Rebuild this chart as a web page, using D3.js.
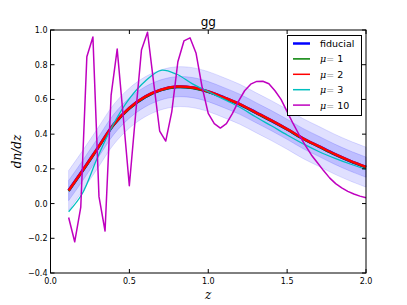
<!DOCTYPE html>
<html><head><meta charset="utf-8">
<script src="https://cdn.jsdelivr.net/npm/d3@7"></script>
<style>body{margin:0;background:#fff}svg{display:block}text{font-family:"DejaVu Sans",sans-serif}</style>
</head><body><svg id="c" width="407" height="305"></svg>
<script>
// smooth curves
const zSmooth = [0.115,0.2,0.3,0.4,0.5,0.6,0.7,0.8,0.9,1.0,1.1,1.2,1.3,1.4,1.5,1.6,1.7,1.8,1.9,2.0];
const fiducial = [0.075,0.185,0.32,0.455,0.55,0.615,0.655,0.673,0.668,0.645,0.61,0.572,0.525,0.478,0.428,0.375,0.33,0.285,0.245,0.21];
const mu1 = [0.072,0.182,0.317,0.452,0.547,0.612,0.652,0.670,0.665,0.643,0.608,0.570,0.523,0.476,0.426,0.373,0.328,0.283,0.243,0.208];
const mu2 = [0.075,0.186,0.321,0.456,0.551,0.616,0.656,0.674,0.669,0.646,0.611,0.573,0.526,0.479,0.429,0.376,0.331,0.286,0.246,0.211];
const mu3 = [-0.047,0.055,0.27,0.46,0.605,0.705,0.768,0.745,0.69,0.645,0.6,0.555,0.5,0.448,0.395,0.345,0.3,0.262,0.228,0.197];
const bandInner = 0.058, bandOuter = 0.115;
// jagged mu=10 curve, 50 samples
const zMu10 = d3.range(50).map(k => 0.115 + k*(2.0-0.115)/49);
const mu10 = [-0.08,-0.22,-0.02,0.846,0.96,0.04,-0.158,0.625,0.89,0.5,0.103,0.5,0.885,0.987,0.7,0.418,0.36,0.53,0.817,0.937,0.955,0.866,0.67,0.52,0.46,0.435,0.46,0.52,0.59,0.65,0.688,0.704,0.705,0.69,0.65,0.6,0.53,0.46,0.395,0.335,0.28,0.235,0.19,0.148,0.115,0.09,0.07,0.055,0.043,0.034];
const xTicks = [0.0,0.5,1.0,1.5,2.0];
const yTicks = [-0.4,-0.2,0.0,0.2,0.4,0.6,0.8,1.0];
const legendLabels = ["fiducial","μ = 1","μ = 2","μ = 3","μ = 10"];
const colors = ["#0000ff","#008000","#ff0000","#00bfbf","#bf00bf"];

const svg = d3.select("#c");
const L=50.5,R=366,T=30,B=273;
const x = d3.scaleLinear().domain([0,2]).range([L,R]);
const y = d3.scaleLinear().domain([-0.4,1.0]).range([B,T]);
const fmt = v => (v<0?"\u2212":"") + Math.abs(v).toFixed(1);

const area = (d) => d3.area().x((v,i)=>x(zSmooth[i])).y0((v,i)=>y(fiducial[i]-d)).y1((v,i)=>y(fiducial[i]+d)).curve(d3.curveCatmullRom);
const g = svg.append("g");
g.append("path").attr("d", area(bandOuter)(fiducial)).attr("fill","rgba(0,0,255,0.12)").attr("stroke","rgba(0,0,255,0.12)").attr("stroke-width",1);
g.append("path").attr("d", area(bandInner)(fiducial)).attr("fill","rgba(0,0,255,0.15)").attr("stroke","rgba(0,0,255,0.15)").attr("stroke-width",1);

const line = d3.line().x((v,i)=>x(zSmooth[i])).y(v=>y(v)).curve(d3.curveCatmullRom);
const series = [[fiducial,colors[0],3],[mu1,colors[1],2],[mu2,colors[2],2.5],[mu3,colors[3],1.3]];
series.forEach(([d,c,w])=>g.append("path").attr("d",line(d)).attr("fill","none").attr("stroke",c).attr("stroke-width",w));
const line10 = d3.line().x((v,i)=>x(zMu10[i])).y(v=>y(v));
g.append("path").attr("d",line10(mu10)).attr("fill","none").attr("stroke",colors[4]).attr("stroke-width",1.5).attr("stroke-linejoin","round");

// frame
svg.append("rect").attr("x",L).attr("y",T).attr("width",R-L).attr("height",B-T).attr("fill","none").attr("stroke","#000").attr("stroke-width",1);
// ticks inward on all sides
xTicks.forEach(v=>{
  svg.append("line").attr("x1",x(v)).attr("x2",x(v)).attr("y1",B).attr("y2",B-4).attr("stroke","#000");
  svg.append("line").attr("x1",x(v)).attr("x2",x(v)).attr("y1",T).attr("y2",T+4).attr("stroke","#000");
  svg.append("text").attr("x",x(v)).attr("y",B+11).attr("text-anchor","middle").attr("font-size",8).text(fmt(v));
});
yTicks.forEach(v=>{
  svg.append("line").attr("x1",L).attr("x2",L+4).attr("y1",y(v)).attr("y2",y(v)).attr("stroke","#000");
  svg.append("line").attr("x1",R).attr("x2",R-4).attr("y1",y(v)).attr("y2",y(v)).attr("stroke","#000");
  svg.append("text").attr("x",L-3).attr("y",y(v)+3).attr("text-anchor","end").attr("font-size",8).text(fmt(v));
});
svg.append("text").attr("x",(L+R)/2).attr("y",T-4).attr("text-anchor","middle").attr("font-size",12).text("gg");
svg.append("text").attr("x",(L+R)/2).attr("y",299).attr("text-anchor","middle").attr("font-size",12).attr("font-style","italic").style("font-family","DejaVu Serif, serif").text("z");
svg.append("text").attr("transform",`translate(21,${(T+B)/2}) rotate(-90)`).attr("text-anchor","middle").attr("font-size",12).attr("font-style","italic").style("font-family","DejaVu Serif, serif").text("dn/dz");

// legend
const lg = svg.append("g");
lg.append("rect").attr("x",287.5).attr("y",35.5).attr("width",74).attr("height",80).attr("fill","#fff").attr("stroke","#000").attr("stroke-width",1);
legendLabels.forEach((t,i)=>{
  const yy = 43.5 + i*15.4;
  lg.append("line").attr("x1",293).attr("x2",310).attr("y1",yy).attr("y2",yy).attr("stroke",colors[i]).attr("stroke-width",i==0?2.5:1.5);
  const tx = lg.append("text").attr("x",320).attr("y",yy+3.5).attr("font-size",9.5);
  if(i==0) tx.text(t);
  else {
    tx.append("tspan").attr("font-style","italic").style("font-family","DejaVu Serif, serif").text("μ");
    tx.append("tspan").attr("fill","#888").text("= ");
    tx.append("tspan").text(t.split("= ")[1]);
  }
});
</script></body></html>
